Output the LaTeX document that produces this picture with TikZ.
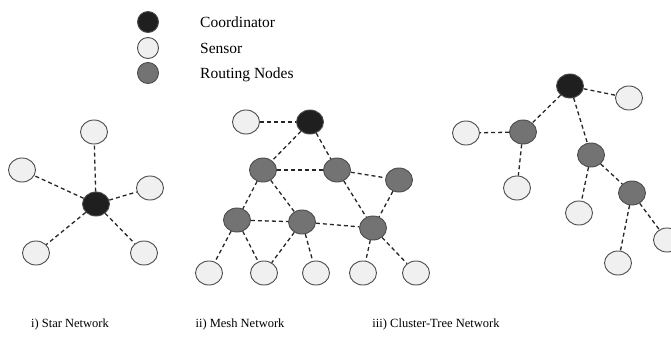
\documentclass[tikz,border=0pt]{standalone}
\usepackage{fontspec}
\setmainfont{Liberation Serif}
\usetikzlibrary{shapes.geometric}
\begin{document}
\begin{tikzpicture}[x=1pt,y=-1pt,
  nd/.style={ellipse,draw=black!70,line width=0.9pt,minimum width=27pt,minimum height=24pt,inner sep=0pt},
  coord/.style={nd,fill=black!88},
  sens/.style={nd,fill=black!6},
  rout/.style={nd,fill=black!55},
  lk/.style={draw=black!85,line width=1.3pt,dash pattern=on 4pt off 3pt},
  leg/.style={font=\fontsize{15.5}{17}\selectfont,anchor=west,inner sep=0pt},
  captxt/.style={font=\fontsize{12.5}{14}\selectfont,inner sep=0pt}]
\useasboundingbox (0,0) rectangle (671,342);
% legend
\node[coord,minimum width=21pt,minimum height=21pt] (lc) at (148,22) {};
\node[sens,minimum width=21pt,minimum height=21pt] (ls) at (148,48) {};
\node[rout,minimum width=21pt,minimum height=21pt] (lr) at (148,73) {};
\node[leg] (tc) at (200,22) {Coordinator};
\node[leg] (ts) at (200,48) {Sensor};
\node[leg] (tr) at (200,75) {Routing Nodes};
% star
\node[coord] (sc) at (96,204) {};
\node[sens] (s1) at (94,132) {};
\node[sens] (s2) at (22,170) {};
\node[sens] (s3) at (150,188) {};
\node[sens] (s4) at (36,253) {};
\node[sens] (s5) at (144,253) {};
\foreach \n in {s1,s2,s3,s4,s5} \draw[lk] (sc) -- (\n);
% mesh
\node[sens] (ms) at (246,122) {};
\node[coord] (mc) at (310,122) {};
\node[rout] (m1) at (263,170) {};
\node[rout] (m2) at (337,170) {};
\node[rout] (m3) at (399,180) {};
\node[rout] (m4) at (237,220) {};
\node[rout] (m5) at (302,222) {};
\node[rout] (m6) at (373,228) {};
\node[sens] (b1) at (209,273) {};
\node[sens] (b2) at (264,273) {};
\node[sens] (b3) at (316,273) {};
\node[sens] (b4) at (363,273) {};
\node[sens] (b5) at (416,273) {};
\foreach \a/\b in {ms/mc,mc/m1,mc/m2,m1/m2,m2/m3,m1/m4,m1/m5,m2/m6,m3/m6,m4/m5,m5/m6,m4/b1,m4/b2,m5/b2,m5/b3,m6/b4,m6/b5}
  \draw[lk] (\a) -- (\b);
% cluster tree
\node[coord] (tc0) at (570,86) {};
\node[sens] (t1) at (629,98) {};
\node[rout] (r1) at (523,132) {};
\node[sens] (t2) at (466,133) {};
\node[sens] (t3) at (517,188) {};
\node[rout] (r2) at (591,155) {};
\node[sens] (t4) at (579,213) {};
\node[rout] (r3) at (632,193) {};
\node[sens] (t5) at (667,240) {};
\node[sens] (t6) at (618,263) {};
\foreach \a/\b in {tc0/t1,tc0/r1,tc0/r2,r1/t2,r1/t3,r2/t4,r2/r3,r3/t5,r3/t6}
  \draw[lk] (\a) -- (\b);
% captions
\node[captxt] (c1) at (70,324) {i) Star Network};
\node[captxt] (c2) at (240,324) {ii) Mesh Network};
\node[captxt] (c3) at (436,324) {iii) Cluster-Tree Network};
\end{tikzpicture}
\end{document}
